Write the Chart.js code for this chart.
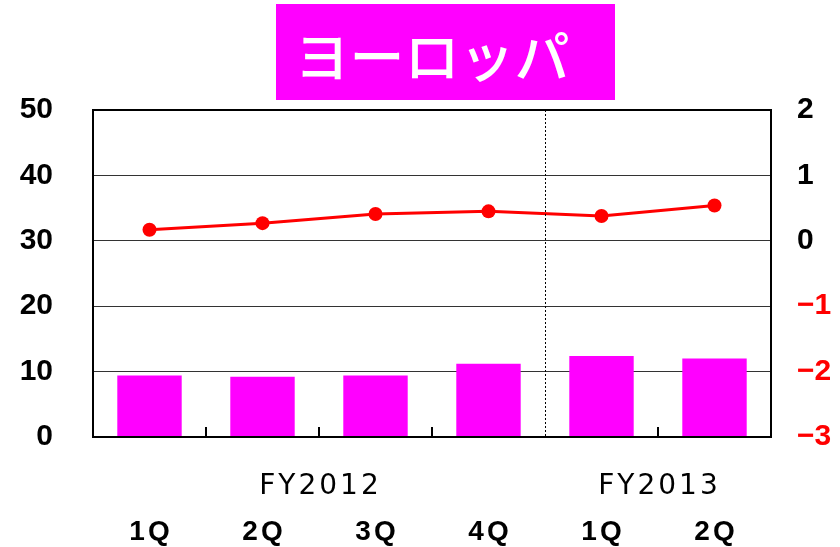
<!DOCTYPE html>
<html>
<head>
<meta charset="utf-8">
<script src="https://cdn.jsdelivr.net/npm/chart.js@4"></script>
<style>
  html, body { margin: 0; padding: 0; background: #fff; }
  #wrap { width: 840px; height: 547px; }
</style>
</head>
<body>
<div id="wrap"><canvas id="regionChart" width="840" height="547"></canvas></div>
<script>
// data
const titleText = "ヨーロッパ";
const quarters = ["1Q", "2Q", "3Q", "4Q", "1Q", "2Q"];
const fiscalYears = ["FY2012", "FY2012", "FY2012", "FY2012", "FY2013", "FY2013"];
const sales = [9.4, 9.2, 9.4, 11.2, 12.4, 12.0];        // left axis, bars
const profit = [0.17, 0.27, 0.41, 0.45, 0.38, 0.54];    // right axis, line
const leftTicks = [0, 50, 10];   // min, max, step
const rightTicks = [-3, 2, 1];

const JP_FONT = "'Noto Sans CJK JP', sans-serif";
const NUM_FONT = "'Liberation Sans', Arial, sans-serif";
const FY_FONT = "'DejaVu Sans', sans-serif";

// title box, frame, category labels, separator and small ticks
const decorations = {
  id: "decorations",
  beforeDraw(chart) {
    const c = chart.ctx;
    c.save();
    c.fillStyle = "#ff00ff";
    c.fillRect(276, 4, 339, 96);
    c.fillStyle = "#fff";
    c.font = "500 55px " + JP_FONT;
    c.textAlign = "center";
    c.textBaseline = "middle";
    c.fillText(titleText, 432, 56);
    c.restore();
  },
  afterDraw(chart) {
    const c = chart.ctx;
    const a = chart.chartArea;
    const x = chart.scales.x;
    c.save();
    // boundaries between categories
    const bounds = [];
    for (let i = 0; i < quarters.length - 1; i++) {
      bounds.push((x.getPixelForValue(i) + x.getPixelForValue(i + 1)) / 2);
    }
    c.strokeStyle = "#000";
    c.lineWidth = 2;
    bounds.forEach((b, i) => {
      if (fiscalYears[i] !== fiscalYears[i + 1]) return;
      c.beginPath();
      c.moveTo(Math.round(b), a.bottom);
      c.lineTo(Math.round(b), a.bottom - 10);
      c.stroke();
    });
    // dotted separator between fiscal years
    c.lineWidth = 1;
    c.setLineDash([2, 2]);
    bounds.forEach((b, i) => {
      if (fiscalYears[i] === fiscalYears[i + 1]) return;
      c.beginPath();
      c.moveTo(Math.round(b) + 0.5, a.top);
      c.lineTo(Math.round(b) + 0.5, a.bottom);
      c.stroke();
    });
    c.setLineDash([]);
    // frame
    c.lineWidth = 2;
    c.strokeRect(a.left, a.top, a.right - a.left, a.bottom - a.top);
    // fiscal year labels
    c.fillStyle = "#000";
    c.textAlign = "center";
    c.textBaseline = "middle";
    c.font = "500 28px " + FY_FONT;
    c.letterSpacing = "3px";
    let start = 0;
    for (let i = 1; i <= fiscalYears.length; i++) {
      if (i === fiscalYears.length || fiscalYears[i] !== fiscalYears[start]) {
        const cx = (x.getPixelForValue(start) + x.getPixelForValue(i - 1)) / 2;
        c.fillText(fiscalYears[start], cx + 1.5, 487);
        start = i;
      }
    }
    // quarter labels
    c.font = "bold 28px " + NUM_FONT;
    c.letterSpacing = "3px";
    quarters.forEach((q, i) => {
      c.fillText(q, x.getPixelForValue(i) + 1.5, 532);
    });
    c.restore();
  }
};

const ctx = document.getElementById("regionChart").getContext("2d");
const chart = new Chart(ctx, {
  data: {
    labels: quarters,
    datasets: [
      {
        type: "line",
        data: profit,
        yAxisID: "y1",
        borderColor: "#ff0000",
        backgroundColor: "#ff0000",
        borderWidth: 3,
        pointRadius: 7,
        pointBorderWidth: 0,
        tension: 0,
        order: 0
      },
      {
        type: "bar",
        data: sales,
        yAxisID: "y",
        backgroundColor: "#ff00ff",
        borderWidth: 0,
        categoryPercentage: 1,
        barPercentage: 0.57,
        order: 1
      }
    ]
  },
  options: {
    responsive: false,
    animation: false,
    layout: { padding: { top: 110, left: 0, right: 0, bottom: 0 } },
    plugins: { legend: { display: false }, tooltip: { enabled: false } },
    scales: {
      x: {
        grid: { display: false, drawTicks: false },
        border: { display: false },
        ticks: { display: false },
        afterFit(s) { s.height = 110; }
      },
      y: {
        position: "left",
        min: leftTicks[0],
        max: leftTicks[1],
        ticks: {
          stepSize: leftTicks[2],
          color: "#000",
          padding: 40,
          font: { family: NUM_FONT, size: 30, weight: "bold" }
        },
        grid: { color: "#333", lineWidth: 1, drawTicks: false },
        border: { display: false },
        afterFit(s) { s.width = 93; }
      },
      y1: {
        position: "right",
        min: rightTicks[0],
        max: rightTicks[1],
        ticks: {
          stepSize: rightTicks[2],
          padding: 26,
          color: (c) => (c.tick.value < 0 ? "#ff0000" : "#000"),
          callback: (v) => (v < 0 ? "\u2212" + Math.abs(v) : String(v)),
          font: { family: NUM_FONT, size: 30, weight: "bold" }
        },
        grid: { display: false, drawTicks: false },
        border: { display: false },
        afterFit(s) { s.width = 69; }
      }
    }
  },
  plugins: [decorations]
});
</script>
</body>
</html>
